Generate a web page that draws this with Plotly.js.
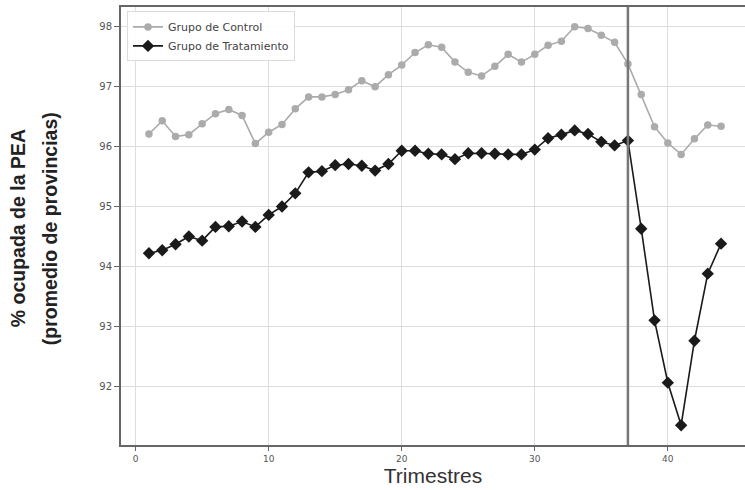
<!DOCTYPE html>
<html>
<head>
<meta charset="utf-8">
<script src="https://cdn.plot.ly/plotly-3.0.1.min.js"></script>
<style>html,body{margin:0;padding:0;background:#fff;}#chart{width:745px;height:490px;}</style>
</head>
<body>
<div id="chart"></div>
<script>
const trimestres = [1,2,3,4,5,6,7,8,9,10,11,12,13,14,15,16,17,18,19,20,21,22,23,24,25,26,27,28,29,30,31,32,33,34,35,36,37,38,39,40,41,42,43,44];
const grupoControl = [96.21,96.43,96.17,96.20,96.38,96.55,96.62,96.52,96.05,96.24,96.37,96.63,96.83,96.83,96.87,96.95,97.10,97.00,97.20,97.36,97.57,97.70,97.66,97.41,97.24,97.18,97.34,97.54,97.41,97.54,97.69,97.76,98.00,97.97,97.86,97.74,97.38,96.87,96.33,96.06,95.87,96.13,96.36,96.34];
const grupoTratamiento = [94.22,94.27,94.37,94.50,94.43,94.66,94.67,94.75,94.66,94.86,95.00,95.22,95.57,95.59,95.69,95.71,95.68,95.60,95.71,95.93,95.93,95.88,95.87,95.79,95.89,95.89,95.88,95.87,95.87,95.95,96.14,96.20,96.27,96.21,96.08,96.02,96.10,94.63,93.10,92.06,91.35,92.76,93.88,94.38];
const trimestreIntervencion = 37;
const xTicks = [0,10,20,30,40];
const yTicks = [92,93,94,95,96,97,98];
const serieNombres = ["Grupo de Control","Grupo de Tratamiento"];
const tituloY = ["% ocupada de la PEA","(promedio de provincias)"];
const tituloX = "Trimestres";

const traces = [
  {x: trimestres, y: grupoControl, name: serieNombres[0], type: 'scatter', mode: 'lines+markers',
   line: {color: '#ababab', width: 1.6}, marker: {symbol: 'circle', size: 7.5, color: '#ababab'}},
  {x: trimestres, y: grupoTratamiento, name: serieNombres[1], type: 'scatter', mode: 'lines+markers',
   line: {color: '#1a1a1a', width: 1.6}, marker: {symbol: 'diamond', size: 9.5, color: '#1a1a1a'}}
];

const titleFont = {size: 19.5, color: '#222', family: 'Liberation Sans, Arial, sans-serif', weight: 'bold'};

const layout = {
  width: 745, height: 490,
  margin: {l: 121, r: 0, t: 7, b: 45},
  paper_bgcolor: '#fff', plot_bgcolor: '#fff',
  font: {family: 'DejaVu Sans, sans-serif', color: '#444'},
  showlegend: true,
  legend: {x: 0.0096, y: 0.99, xanchor: 'left', yanchor: 'top', bgcolor: 'rgba(255,255,255,0.9)',
           bordercolor: '#dcdcdc', borderwidth: 1, font: {size: 11, color: '#444', family: 'DejaVu Sans, sans-serif'},
           tracegroupgap: 0, itemwidth: 30},
  xaxis: {range: [-1.1, 45.8], tickvals: xTicks, ticktext: xTicks.map(String),
          showgrid: true, gridcolor: '#dedede', gridwidth: 1, zeroline: false,
          showline: true, linecolor: '#666', linewidth: 2, mirror: true,
          ticks: 'outside', ticklen: 4, tickcolor: '#666', tickfont: {size: 9, color: '#555'},
          title: {text: tituloX, font: {size: 21, color: '#333', family: 'Liberation Sans, Arial, sans-serif'}, standoff: 4}, automargin: false},
  yaxis: {range: [91.02, 98.33], tickvals: yTicks, ticktext: yTicks.map(String),
          showgrid: true, gridcolor: '#dedede', gridwidth: 1, zeroline: false,
          showline: true, linecolor: '#666', linewidth: 2, mirror: true,
          ticks: 'outside', ticklen: 5, tickcolor: '#666', tickfont: {size: 10, color: '#555'},
          automargin: false},
  annotations: [
    {text: tituloY[0], xref: 'paper', yref: 'paper', x: -0.165, y: 0.495, xanchor: 'center', yanchor: 'middle',
     textangle: -90, showarrow: false, font: titleFont},
    {text: tituloY[1], xref: 'paper', yref: 'paper', x: -0.1138, y: 0.495, xanchor: 'center', yanchor: 'middle',
     textangle: -90, showarrow: false, font: titleFont}
  ],
  shapes: [{type: 'line', xref: 'x', yref: 'paper', x0: trimestreIntervencion, x1: trimestreIntervencion, y0: 0, y1: 1,
            line: {color: '#777', width: 2.5}, layer: 'above'}]
};

Plotly.newPlot('chart', traces, layout, {displayModeBar: false, staticPlot: true});
</script>
</body>
</html>
